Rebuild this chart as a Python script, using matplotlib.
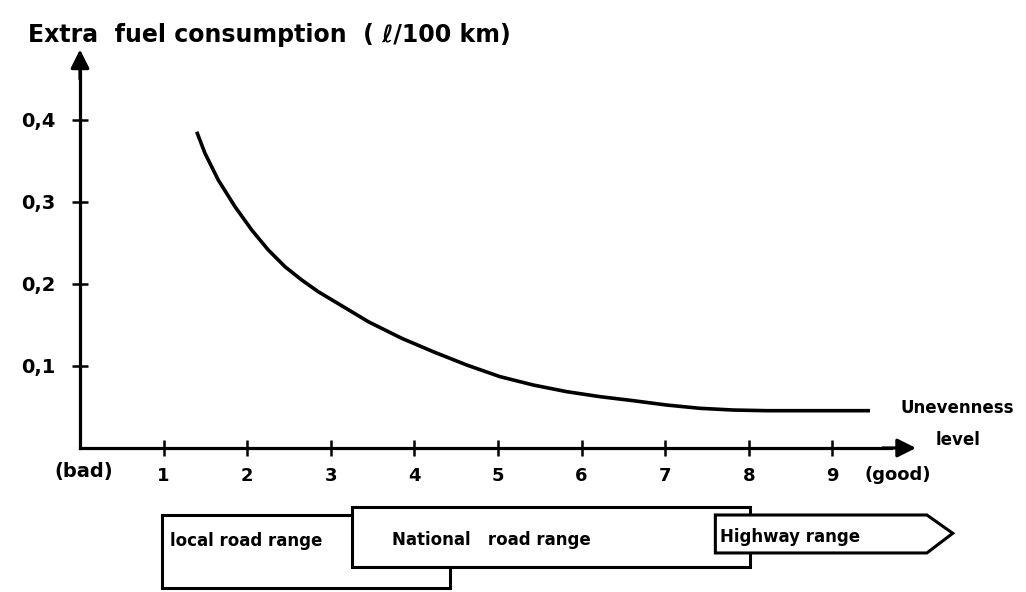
import numpy as np
import matplotlib
matplotlib.use('Agg')
import matplotlib.pyplot as plt
from matplotlib.patches import Polygon

# curve: unevenness level vs extra fuel consumption
level = [1.396, 1.495, 1.654, 1.854, 2.054, 2.252, 2.452, 2.652, 2.850, 3.050,
         3.250, 3.449, 3.648, 3.848, 4.226, 4.626, 5.024, 5.422, 5.822,
         6.220, 6.618, 7.018, 7.416, 7.815, 8.214, 8.612, 9.011, 9.450]
extra_fuel = [0.3857, 0.3594, 0.3268, 0.2943, 0.2659, 0.2415, 0.2211, 0.2049, 0.1906, 0.1784,
              0.1662, 0.1540, 0.1439, 0.1338, 0.1174, 0.1012, 0.0870, 0.0768, 0.0687,
              0.0626, 0.0577, 0.0524, 0.0484, 0.0463, 0.0455, 0.0455, 0.0455, 0.0455]

x_ticks = [1, 2, 3, 4, 5, 6, 7, 8, 9]
y_ticks = [0.1, 0.2, 0.3, 0.4]
y_tick_labels = ['0,1', '0,2', '0,3', '0,4']

# road ranges along the unevenness axis (start, end)
range_names = ['local road range', 'National   road range', 'Highway range']
range_start = [0.98, 3.25, 7.60]
range_end = [4.43, 8.01, 10.44]

fig = plt.figure(figsize=(10.26, 5.92), dpi=100)
ax = fig.add_axes([0, 0, 1, 1])
ax.set_xlim(-80 / 83.6, (1026 - 80) / 83.6)
ax.set_ylim((448 - 592) / 820, 448 / 820)

bold = dict(fontweight='bold', color='black')

# axes drawn like the hand sketch
for s in ['top', 'right']:
    ax.spines[s].set_visible(False)
ax.spines['left'].set_position(('data', 0))
ax.spines['bottom'].set_position(('data', 0))
ax.spines['left'].set_bounds(0, 0.46)
ax.spines['bottom'].set_bounds(0, 9.7)
for s in ['left', 'bottom']:
    ax.spines[s].set_linewidth(2.3)

ax.set_xticks(x_ticks)
ax.set_xticklabels([str(t) for t in x_ticks], fontsize=13, **bold)
ax.set_yticks(y_ticks)
ax.set_yticklabels(y_tick_labels, fontsize=14, **bold)
ax.tick_params(axis='both', direction='inout', length=12, width=1.8)
ax.tick_params(axis='x', pad=8)
ax.tick_params(axis='y', pad=12)

# arrow heads
arrow = dict(arrowstyle='-|>', lw=2.3, color='black', mutation_scale=28,
             shrinkA=0, shrinkB=0)
ax.annotate('', xy=(0, 0.486), xytext=(0, 0.45), arrowprops=arrow)
ax.annotate('', xy=(10.0, 0), xytext=(9.6, 0), arrowprops=arrow)

ax.plot(level, extra_fuel, color='black', lw=2.6, solid_capstyle='butt',
        solid_joinstyle='round')

ax.text(-0.62, 0.504, 'Extra  fuel consumption  ( ℓ/100 km)', ha='left', va='center',
        fontsize=17, **bold)
ax.text(9.81, 0.049, 'Unevenness', ha='left', va='center', fontsize=12, **bold)
ax.text(10.23, 0.010, 'level', ha='left', va='center', fontsize=12, **bold)
ax.text(0.04, -0.029, '(bad)', ha='center', va='center', fontsize=14, **bold)
ax.text(9.78, -0.033, '(good)', ha='center', va='center', fontsize=13, **bold)

# range boxes below the axis
# local road range
y0, y1 = -0.1707, -0.0817
ax.add_patch(Polygon([(range_start[0], y0), (range_end[0], y0), (range_end[0], y1),
                      (range_start[0], y1)], closed=True, fc='white',
                     ec='black', lw=2.2, zorder=3, clip_on=False))
ax.text(range_start[0] + 0.1, -0.114, range_names[0], ha='left', va='center',
        fontsize=12, zorder=6, **bold)

# national road range
y0, y1 = -0.145, -0.072
ax.add_patch(Polygon([(range_start[1], y0), (range_end[1], y0), (range_end[1], y1),
                      (range_start[1], y1)], closed=True, fc='white',
                     ec='black', lw=2.2, zorder=4, clip_on=False))
ax.text(range_start[1] + 0.48, -0.112, range_names[1], ha='left', va='center',
        fontsize=12, zorder=6, **bold)

# highway range, drawn as an arrow
y0, y1, ytip = -0.128, -0.0817, -0.104
ax.add_patch(Polygon([(range_start[2], y0), (range_end[2] - 0.31, y0), (range_end[2], ytip),
                      (range_end[2] - 0.31, y1), (range_start[2], y1)], closed=True,
                     fc='white', ec='black', lw=2.2, zorder=5, clip_on=False))
ax.text(range_start[2] + 0.05, -0.108, range_names[2], ha='left', va='center',
        fontsize=12, zorder=6, **bold)

fig.savefig('out.png', dpi=100)
